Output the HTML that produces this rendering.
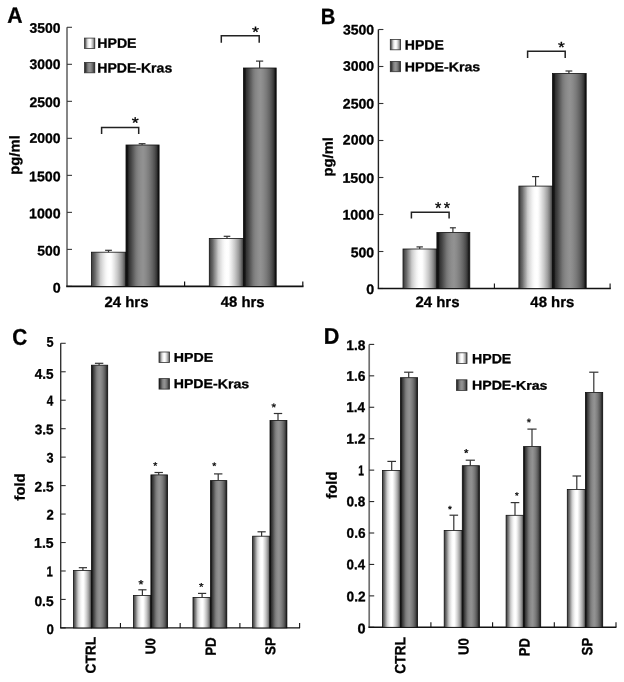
<!DOCTYPE html>
<html><head><meta charset="utf-8"><style>
html,body{margin:0;padding:0;background:#fff;width:624px;height:682px;overflow:hidden}
svg{display:block;filter:grayscale(1) blur(0.3px)}
text{font-family:"Liberation Sans",sans-serif;font-weight:bold;stroke:#000;stroke-width:0.3px}
</style></head><body>
<svg width="624" height="682" viewBox="0 0 624 682">
<rect width="624" height="682" fill="#fff"/>
<defs>
<linearGradient id="gL" x1="0" x2="1" y1="0" y2="0"><stop offset="0" stop-color="#444"/><stop offset="0.04" stop-color="#4a4a4a"/><stop offset="0.07" stop-color="#5c5c5c"/><stop offset="0.1" stop-color="#686868"/><stop offset="0.15" stop-color="#888"/><stop offset="0.21" stop-color="#aaa"/><stop offset="0.26" stop-color="#cacaca"/><stop offset="0.33" stop-color="#e0e0e0"/><stop offset="0.4" stop-color="#f2f2f2"/><stop offset="0.46" stop-color="#fcfcfc"/><stop offset="0.52" stop-color="#fff"/><stop offset="0.57" stop-color="#fdfdfd"/><stop offset="0.65" stop-color="#e8e8e8"/><stop offset="0.75" stop-color="#c8c8c8"/><stop offset="0.85" stop-color="#a0a0a0"/><stop offset="0.91" stop-color="#808080"/><stop offset="0.965" stop-color="#555"/><stop offset="1" stop-color="#333"/></linearGradient>
<linearGradient id="gD" x1="0" x2="1" y1="0" y2="0"><stop offset="0" stop-color="#111"/><stop offset="0.05" stop-color="#151515"/><stop offset="0.09" stop-color="#333"/><stop offset="0.15" stop-color="#444"/><stop offset="0.2" stop-color="#555"/><stop offset="0.25" stop-color="#666"/><stop offset="0.3" stop-color="#777"/><stop offset="0.37" stop-color="#858585"/><stop offset="0.45" stop-color="#8e8e8e"/><stop offset="0.52" stop-color="#929292"/><stop offset="0.6" stop-color="#8a8a8a"/><stop offset="0.7" stop-color="#7a7a7a"/><stop offset="0.79" stop-color="#666"/><stop offset="0.865" stop-color="#505050"/><stop offset="0.92" stop-color="#3a3a3a"/><stop offset="0.955" stop-color="#222"/><stop offset="0.975" stop-color="#111"/><stop offset="1" stop-color="#111"/></linearGradient>
</defs>
<text transform="translate(7.17,22.80) rotate(0.06) scale(0.952,1)" font-size="22.24" fill="#000" >A</text>
<line x1="67.00" y1="27.30" x2="67.00" y2="286.40" stroke="#686868" stroke-width="1.6"/>
<line x1="67.00" y1="286.40" x2="72.00" y2="286.40" stroke="#3a3a3a" stroke-width="1.1"/>
<line x1="67.00" y1="249.39" x2="72.00" y2="249.39" stroke="#3a3a3a" stroke-width="1.1"/>
<line x1="67.00" y1="212.37" x2="72.00" y2="212.37" stroke="#3a3a3a" stroke-width="1.1"/>
<line x1="67.00" y1="175.36" x2="72.00" y2="175.36" stroke="#3a3a3a" stroke-width="1.1"/>
<line x1="67.00" y1="138.34" x2="72.00" y2="138.34" stroke="#3a3a3a" stroke-width="1.1"/>
<line x1="67.00" y1="101.33" x2="72.00" y2="101.33" stroke="#3a3a3a" stroke-width="1.1"/>
<line x1="67.00" y1="64.31" x2="72.00" y2="64.31" stroke="#3a3a3a" stroke-width="1.1"/>
<line x1="67.00" y1="27.30" x2="72.00" y2="27.30" stroke="#3a3a3a" stroke-width="1.1"/>
<text transform="translate(52.63,292.51) rotate(0.06) scale(1.033,1)" font-size="13.84" fill="#000" >0</text>
<text transform="translate(37.37,255.56) rotate(0.06) scale(1.004,1)" font-size="13.84" fill="#000" >500</text>
<text transform="translate(29.01,218.26) rotate(0.06) scale(1.025,1)" font-size="13.84" fill="#000" >1000</text>
<text transform="translate(29.01,181.21) rotate(0.06) scale(1.025,1)" font-size="13.84" fill="#000" >1500</text>
<text transform="translate(29.41,142.86) rotate(0.06) scale(1.012,1)" font-size="13.84" fill="#000" >2000</text>
<text transform="translate(29.41,106.96) rotate(0.06) scale(1.012,1)" font-size="13.84" fill="#000" >2500</text>
<text transform="translate(29.58,69.09) rotate(0.06) scale(1.009,1)" font-size="13.81" fill="#000" >3000</text>
<text transform="translate(29.58,32.84) rotate(0.06) scale(1.009,1)" font-size="13.81" fill="#000" >3500</text>
<line x1="66.20" y1="286.40" x2="303.50" y2="286.40" stroke="#111" stroke-width="1.6"/>
<line x1="184.60" y1="286.40" x2="184.60" y2="281.40" stroke="#111" stroke-width="1.2"/>
<line x1="302.80" y1="286.40" x2="302.80" y2="281.40" stroke="#111" stroke-width="1.2"/>
<text transform="translate(104.48,306.96) rotate(0.06) scale(1.007,1)" font-size="14.84" fill="#000" >24 hrs</text>
<text transform="translate(220.78,306.86) rotate(0.06) scale(1.009,1)" font-size="14.71" fill="#000" >48 hrs</text>
<rect x="91.50" y="252.20" width="34.50" height="34.20" fill="url(#gL)" stroke="#111" stroke-width="0.8"/>
<line x1="108.50" y1="252.20" x2="108.50" y2="250.30" stroke="#333" stroke-width="1.2"/>
<line x1="105.10" y1="250.30" x2="111.90" y2="250.30" stroke="#333" stroke-width="1.2"/>
<rect x="126.00" y="145.00" width="33.10" height="141.40" fill="url(#gD)" stroke="#111" stroke-width="0.8"/>
<line x1="142.10" y1="145.00" x2="142.10" y2="143.70" stroke="#333" stroke-width="1.2"/>
<line x1="138.70" y1="143.70" x2="145.50" y2="143.70" stroke="#333" stroke-width="1.2"/>
<rect x="209.30" y="238.40" width="34.10" height="48.00" fill="url(#gL)" stroke="#111" stroke-width="0.8"/>
<line x1="227.00" y1="238.40" x2="227.00" y2="236.30" stroke="#333" stroke-width="1.2"/>
<line x1="223.70" y1="236.30" x2="230.30" y2="236.30" stroke="#333" stroke-width="1.2"/>
<rect x="243.40" y="68.00" width="32.80" height="218.40" fill="url(#gD)" stroke="#111" stroke-width="0.8"/>
<line x1="259.60" y1="68.00" x2="259.60" y2="61.10" stroke="#333" stroke-width="1.2"/>
<line x1="256.00" y1="61.10" x2="263.20" y2="61.10" stroke="#333" stroke-width="1.2"/>
<path d="M101.60,134.00 V127.40 H138.70 V134.00" fill="none" stroke="#222" stroke-width="1.5"/>
<path d="M221.30,42.80 V35.70 H259.20 V42.80" fill="none" stroke="#222" stroke-width="1.5"/>
<text transform="translate(131.71,128.37) rotate(0.06) scale(1.123,1)" font-size="15.95" font-weight="normal" style="font-weight:normal">*</text>
<text transform="translate(252.01,37.18) rotate(0.06) scale(1.164,1)" font-size="15.38" font-weight="normal" style="font-weight:normal">*</text>
<rect x="84.50" y="38.10" width="10.30" height="10.30" fill="url(#gL)" stroke="#333" stroke-width="0.8"/>
<rect x="84.50" y="62.50" width="10.30" height="10.30" fill="url(#gD)" stroke="#333" stroke-width="0.8"/>
<text transform="translate(97.25,47.80) rotate(0.06) scale(1.046,1)" font-size="13.52" fill="#000" >HPDE</text>
<text transform="translate(97.26,72.47) rotate(0.06) scale(1.055,1)" font-size="13.33" fill="#000" >HPDE-Kras</text>
<text transform="translate(19.37,174.78) scale(0.963,1) rotate(-89.94)" font-size="14.86" fill="#000">pg/ml</text>
<text transform="translate(320.65,24.00) rotate(0.06) scale(0.913,1)" font-size="22.09" fill="#000" >B</text>
<line x1="378.40" y1="29.50" x2="378.40" y2="288.50" stroke="#222" stroke-width="1.4"/>
<line x1="378.40" y1="288.50" x2="383.40" y2="288.50" stroke="#333" stroke-width="1.1"/>
<line x1="378.40" y1="251.50" x2="383.40" y2="251.50" stroke="#333" stroke-width="1.1"/>
<line x1="378.40" y1="214.50" x2="383.40" y2="214.50" stroke="#333" stroke-width="1.1"/>
<line x1="378.40" y1="177.50" x2="383.40" y2="177.50" stroke="#333" stroke-width="1.1"/>
<line x1="378.40" y1="140.50" x2="383.40" y2="140.50" stroke="#333" stroke-width="1.1"/>
<line x1="378.40" y1="103.50" x2="383.40" y2="103.50" stroke="#333" stroke-width="1.1"/>
<line x1="378.40" y1="66.50" x2="383.40" y2="66.50" stroke="#333" stroke-width="1.1"/>
<line x1="378.40" y1="29.50" x2="383.40" y2="29.50" stroke="#333" stroke-width="1.1"/>
<text transform="translate(366.23,294.01) rotate(0.06) scale(1.033,1)" font-size="13.84" fill="#000" >0</text>
<text transform="translate(350.77,257.21) rotate(0.06) scale(1.014,1)" font-size="13.84" fill="#000" >500</text>
<text transform="translate(342.40,219.51) rotate(0.06) scale(1.032,1)" font-size="13.84" fill="#000" >1000</text>
<text transform="translate(342.40,182.86) rotate(0.06) scale(1.032,1)" font-size="13.84" fill="#000" >1500</text>
<text transform="translate(342.81,144.56) rotate(0.06) scale(1.019,1)" font-size="13.84" fill="#000" >2000</text>
<text transform="translate(342.81,108.51) rotate(0.06) scale(1.019,1)" font-size="13.84" fill="#000" >2500</text>
<text transform="translate(342.98,70.79) rotate(0.06) scale(1.015,1)" font-size="13.81" fill="#000" >3000</text>
<text transform="translate(342.98,34.49) rotate(0.06) scale(1.015,1)" font-size="13.81" fill="#000" >3500</text>
<line x1="377.70" y1="288.50" x2="610.80" y2="288.50" stroke="#111" stroke-width="1.4"/>
<line x1="494.40" y1="288.50" x2="494.40" y2="283.50" stroke="#111" stroke-width="1.1"/>
<line x1="610.10" y1="288.50" x2="610.10" y2="283.50" stroke="#111" stroke-width="1.1"/>
<text transform="translate(415.48,307.05) rotate(0.06) scale(0.998,1)" font-size="14.98" fill="#000" >24 hrs</text>
<text transform="translate(530.37,307.06) rotate(0.06) scale(1.005,1)" font-size="14.84" fill="#000" >48 hrs</text>
<rect x="403.00" y="249.00" width="33.90" height="39.50" fill="url(#gL)" stroke="#111" stroke-width="0.8"/>
<line x1="419.70" y1="249.00" x2="419.70" y2="246.90" stroke="#333" stroke-width="1.2"/>
<line x1="416.50" y1="246.90" x2="422.90" y2="246.90" stroke="#333" stroke-width="1.2"/>
<rect x="436.90" y="232.50" width="32.90" height="56.00" fill="url(#gD)" stroke="#111" stroke-width="0.8"/>
<line x1="452.90" y1="232.50" x2="452.90" y2="227.80" stroke="#333" stroke-width="1.2"/>
<line x1="449.90" y1="227.80" x2="455.90" y2="227.80" stroke="#333" stroke-width="1.2"/>
<rect x="518.90" y="186.10" width="33.60" height="102.40" fill="url(#gL)" stroke="#111" stroke-width="0.8"/>
<line x1="535.60" y1="186.10" x2="535.60" y2="176.60" stroke="#333" stroke-width="1.2"/>
<line x1="532.10" y1="176.60" x2="539.10" y2="176.60" stroke="#333" stroke-width="1.2"/>
<rect x="552.50" y="73.50" width="33.70" height="215.00" fill="url(#gD)" stroke="#111" stroke-width="0.8"/>
<line x1="568.90" y1="73.50" x2="568.90" y2="71.00" stroke="#333" stroke-width="1.2"/>
<line x1="565.50" y1="71.00" x2="572.30" y2="71.00" stroke="#333" stroke-width="1.2"/>
<path d="M411.40,218.60 V212.30 H449.10 V218.60" fill="none" stroke="#222" stroke-width="1.5"/>
<path d="M527.60,58.10 V51.30 H565.20 V58.10" fill="none" stroke="#222" stroke-width="1.5"/>
<text transform="translate(435.04,213.57) rotate(0.06) scale(0.982,1)" font-size="16.52" font-weight="normal" style="font-weight:normal">*</text>
<text transform="translate(443.84,213.57) rotate(0.06) scale(0.982,1)" font-size="16.52" font-weight="normal" style="font-weight:normal">*</text>
<text transform="translate(558.12,52.58) rotate(0.06) scale(1.128,1)" font-size="15.38" font-weight="normal" style="font-weight:normal">*</text>
<rect x="390.30" y="39.50" width="10.30" height="10.30" fill="url(#gL)" stroke="#333" stroke-width="0.8"/>
<rect x="390.30" y="61.40" width="10.30" height="10.30" fill="url(#gD)" stroke="#333" stroke-width="0.8"/>
<text transform="translate(404.76,49.50) rotate(0.06) scale(1.052,1)" font-size="13.37" fill="#000" >HPDE</text>
<text transform="translate(404.75,71.17) rotate(0.06) scale(1.098,1)" font-size="12.90" fill="#000" >HPDE-Kras</text>
<text transform="translate(332.61,176.47) scale(0.953,1) rotate(-89.94)" font-size="14.78" fill="#000">pg/ml</text>
<text transform="translate(12.25,344.78) rotate(0.06) scale(0.915,1)" font-size="22.74" fill="#000" >C</text>
<line x1="60.70" y1="343.30" x2="60.70" y2="627.90" stroke="#333" stroke-width="1.4"/>
<line x1="60.70" y1="627.90" x2="65.70" y2="627.90" stroke="#333" stroke-width="1.1"/>
<line x1="60.70" y1="599.44" x2="65.70" y2="599.44" stroke="#333" stroke-width="1.1"/>
<line x1="60.70" y1="570.98" x2="65.70" y2="570.98" stroke="#333" stroke-width="1.1"/>
<line x1="60.70" y1="542.52" x2="65.70" y2="542.52" stroke="#333" stroke-width="1.1"/>
<line x1="60.70" y1="514.06" x2="65.70" y2="514.06" stroke="#333" stroke-width="1.1"/>
<line x1="60.70" y1="485.60" x2="65.70" y2="485.60" stroke="#333" stroke-width="1.1"/>
<line x1="60.70" y1="457.14" x2="65.70" y2="457.14" stroke="#333" stroke-width="1.1"/>
<line x1="60.70" y1="428.68" x2="65.70" y2="428.68" stroke="#333" stroke-width="1.1"/>
<line x1="60.70" y1="400.22" x2="65.70" y2="400.22" stroke="#333" stroke-width="1.1"/>
<line x1="60.70" y1="371.76" x2="65.70" y2="371.76" stroke="#333" stroke-width="1.1"/>
<line x1="60.70" y1="343.30" x2="65.70" y2="343.30" stroke="#333" stroke-width="1.1"/>
<text transform="translate(46.38,634.11) rotate(0.06) scale(0.957,1)" font-size="13.84" fill="#000" >0</text>
<text transform="translate(34.46,606.06) rotate(0.06) scale(0.994,1)" font-size="13.84" fill="#000" >0.5</text>
<text transform="translate(46.48,576.30) rotate(0.06) scale(0.800,1)" font-size="14.24" fill="#000" >1</text>
<text transform="translate(34.12,547.66) rotate(0.06) scale(0.997,1)" font-size="14.05" fill="#000" >1.5</text>
<text transform="translate(46.45,519.40) rotate(0.06) scale(0.932,1)" font-size="14.04" fill="#000" >2</text>
<text transform="translate(34.52,491.46) rotate(0.06) scale(0.990,1)" font-size="13.84" fill="#000" >2.5</text>
<text transform="translate(46.61,462.49) rotate(0.06) scale(0.918,1)" font-size="13.81" fill="#000" >3</text>
<text transform="translate(34.69,434.24) rotate(0.06) scale(0.984,1)" font-size="13.81" fill="#000" >3.5</text>
<text transform="translate(46.72,405.50) rotate(0.06) scale(0.826,1)" font-size="14.24" fill="#000" >4</text>
<text transform="translate(34.80,378.76) rotate(0.06) scale(0.962,1)" font-size="14.05" fill="#000" >4.5</text>
<text transform="translate(46.51,346.76) rotate(0.06) scale(0.902,1)" font-size="14.05" fill="#000" >5</text>
<line x1="60.00" y1="627.90" x2="300.00" y2="627.90" stroke="#111" stroke-width="1.4"/>
<line x1="120.43" y1="627.90" x2="120.43" y2="622.90" stroke="#111" stroke-width="1.1"/>
<line x1="180.16" y1="627.90" x2="180.16" y2="622.90" stroke="#111" stroke-width="1.1"/>
<line x1="239.89" y1="627.90" x2="239.89" y2="622.90" stroke="#111" stroke-width="1.1"/>
<line x1="299.62" y1="627.90" x2="299.62" y2="622.90" stroke="#111" stroke-width="1.1"/>
<rect x="73.40" y="570.60" width="18.00" height="57.30" fill="url(#gL)" stroke="#111" stroke-width="0.8"/>
<line x1="82.90" y1="570.60" x2="82.90" y2="567.70" stroke="#333" stroke-width="1.2"/>
<line x1="78.80" y1="567.70" x2="87.00" y2="567.70" stroke="#333" stroke-width="1.2"/>
<rect x="91.40" y="365.20" width="16.30" height="262.70" fill="url(#gD)" stroke="#111" stroke-width="0.8"/>
<line x1="99.10" y1="365.20" x2="99.10" y2="363.30" stroke="#333" stroke-width="1.2"/>
<line x1="94.90" y1="363.30" x2="103.30" y2="363.30" stroke="#333" stroke-width="1.2"/>
<rect x="133.40" y="595.40" width="17.50" height="32.50" fill="url(#gL)" stroke="#111" stroke-width="0.8"/>
<line x1="142.40" y1="595.40" x2="142.40" y2="589.80" stroke="#333" stroke-width="1.2"/>
<line x1="138.30" y1="589.80" x2="146.50" y2="589.80" stroke="#333" stroke-width="1.2"/>
<rect x="150.90" y="474.90" width="16.70" height="153.00" fill="url(#gD)" stroke="#111" stroke-width="0.8"/>
<line x1="158.70" y1="474.90" x2="158.70" y2="472.50" stroke="#333" stroke-width="1.2"/>
<line x1="154.50" y1="472.50" x2="162.90" y2="472.50" stroke="#333" stroke-width="1.2"/>
<rect x="193.00" y="597.40" width="17.50" height="30.50" fill="url(#gL)" stroke="#111" stroke-width="0.8"/>
<line x1="202.10" y1="597.40" x2="202.10" y2="593.40" stroke="#333" stroke-width="1.2"/>
<line x1="198.00" y1="593.40" x2="206.20" y2="593.40" stroke="#333" stroke-width="1.2"/>
<rect x="210.50" y="480.60" width="16.30" height="147.30" fill="url(#gD)" stroke="#111" stroke-width="0.8"/>
<line x1="218.20" y1="480.60" x2="218.20" y2="473.90" stroke="#333" stroke-width="1.2"/>
<line x1="214.00" y1="473.90" x2="222.40" y2="473.90" stroke="#333" stroke-width="1.2"/>
<rect x="252.60" y="536.20" width="17.40" height="91.70" fill="url(#gL)" stroke="#111" stroke-width="0.8"/>
<line x1="261.60" y1="536.20" x2="261.60" y2="531.80" stroke="#333" stroke-width="1.2"/>
<line x1="257.50" y1="531.80" x2="265.70" y2="531.80" stroke="#333" stroke-width="1.2"/>
<rect x="270.00" y="420.40" width="16.90" height="207.50" fill="url(#gD)" stroke="#111" stroke-width="0.8"/>
<line x1="278.00" y1="420.40" x2="278.00" y2="413.50" stroke="#333" stroke-width="1.2"/>
<line x1="273.80" y1="413.50" x2="282.20" y2="413.50" stroke="#333" stroke-width="1.2"/>
<text transform="translate(138.54,588.33) rotate(0.06) scale(1.080,1)" font-size="11.68" font-weight="normal" style="font-weight:normal">*</text>
<text transform="translate(153.36,469.06) rotate(0.06) scale(1.080,1)" font-size="9.68" font-weight="normal" style="font-weight:normal">*</text>
<text transform="translate(199.02,590.55) rotate(0.06) scale(1.080,1)" font-size="10.82" font-weight="normal" style="font-weight:normal">*</text>
<text transform="translate(212.36,469.26) rotate(0.06) scale(1.080,1)" font-size="9.68" font-weight="normal" style="font-weight:normal">*</text>
<text transform="translate(271.52,411.05) rotate(0.06) scale(1.080,1)" font-size="10.82" font-weight="normal" style="font-weight:normal">*</text>
<rect x="159.00" y="352.00" width="10.50" height="10.50" fill="url(#gL)" stroke="#333" stroke-width="0.8"/>
<rect x="159.00" y="378.60" width="10.50" height="10.50" fill="url(#gD)" stroke="#333" stroke-width="0.8"/>
<text transform="translate(173.75,361.70) rotate(0.06) scale(1.122,1)" font-size="12.65" fill="#000" >HPDE</text>
<text transform="translate(173.75,388.08) rotate(0.06) scale(1.108,1)" font-size="12.76" fill="#000" >HPDE-Kras</text>
<text transform="translate(24.76,500.55) scale(0.975,1) rotate(-89.94)" font-size="14.80" fill="#000">fold</text>
<text transform="translate(95.56,673.57) scale(1.034,1) rotate(-89.94)" font-size="13.80" fill="#000">CTRL</text>
<text transform="translate(155.16,654.26) scale(1.112,1) rotate(-89.94)" font-size="12.57" fill="#000">U0</text>
<text transform="translate(215.70,655.79) scale(1.099,1) rotate(-89.94)" font-size="13.36" fill="#000">PD</text>
<text transform="translate(275.16,654.89) scale(1.067,1) rotate(-89.94)" font-size="13.38" fill="#000">SP</text>
<text transform="translate(323.65,343.80) rotate(0.06) scale(0.956,1)" font-size="22.67" fill="#000" >D</text>
<line x1="369.20" y1="344.40" x2="369.20" y2="627.30" stroke="#707070" stroke-width="1.7"/>
<line x1="369.20" y1="627.30" x2="374.20" y2="627.30" stroke="#2a2a2a" stroke-width="1.1"/>
<line x1="369.20" y1="595.87" x2="374.20" y2="595.87" stroke="#2a2a2a" stroke-width="1.1"/>
<line x1="369.20" y1="564.43" x2="374.20" y2="564.43" stroke="#2a2a2a" stroke-width="1.1"/>
<line x1="369.20" y1="533.00" x2="374.20" y2="533.00" stroke="#2a2a2a" stroke-width="1.1"/>
<line x1="369.20" y1="501.57" x2="374.20" y2="501.57" stroke="#2a2a2a" stroke-width="1.1"/>
<line x1="369.20" y1="470.13" x2="374.20" y2="470.13" stroke="#2a2a2a" stroke-width="1.1"/>
<line x1="369.20" y1="438.70" x2="374.20" y2="438.70" stroke="#2a2a2a" stroke-width="1.1"/>
<line x1="369.20" y1="407.27" x2="374.20" y2="407.27" stroke="#2a2a2a" stroke-width="1.1"/>
<line x1="369.20" y1="375.83" x2="374.20" y2="375.83" stroke="#2a2a2a" stroke-width="1.1"/>
<line x1="369.20" y1="344.40" x2="374.20" y2="344.40" stroke="#2a2a2a" stroke-width="1.1"/>
<text transform="translate(357.53,633.21) rotate(0.06) scale(1.048,1)" font-size="13.84" fill="#000" >0</text>
<text transform="translate(346.56,601.16) rotate(0.06) scale(0.987,1)" font-size="13.84" fill="#000" >0.2</text>
<text transform="translate(346.57,569.36) rotate(0.06) scale(0.961,1)" font-size="13.84" fill="#000" >0.4</text>
<text transform="translate(346.56,537.86) rotate(0.06) scale(0.984,1)" font-size="13.84" fill="#000" >0.6</text>
<text transform="translate(346.56,506.36) rotate(0.06) scale(0.980,1)" font-size="13.84" fill="#000" >0.8</text>
<text transform="translate(358.25,475.30) rotate(0.06) scale(0.724,1)" font-size="14.24" fill="#000" >1</text>
<text transform="translate(346.22,443.55) rotate(0.06) scale(0.991,1)" font-size="14.04" fill="#000" >1.2</text>
<text transform="translate(346.25,412.00) rotate(0.06) scale(0.951,1)" font-size="14.24" fill="#000" >1.4</text>
<text transform="translate(346.23,380.81) rotate(0.06) scale(1.002,1)" font-size="13.84" fill="#000" >1.6</text>
<text transform="translate(346.23,349.91) rotate(0.06) scale(0.998,1)" font-size="13.84" fill="#000" >1.8</text>
<line x1="368.40" y1="627.30" x2="616.40" y2="627.30" stroke="#111" stroke-width="1.4"/>
<line x1="430.90" y1="627.30" x2="430.90" y2="622.30" stroke="#111" stroke-width="1.1"/>
<line x1="492.60" y1="627.30" x2="492.60" y2="622.30" stroke="#111" stroke-width="1.1"/>
<line x1="554.30" y1="627.30" x2="554.30" y2="622.30" stroke="#111" stroke-width="1.1"/>
<line x1="616.00" y1="627.30" x2="616.00" y2="622.30" stroke="#111" stroke-width="1.1"/>
<rect x="382.40" y="470.40" width="18.00" height="156.90" fill="url(#gL)" stroke="#111" stroke-width="0.8"/>
<line x1="391.70" y1="470.40" x2="391.70" y2="461.40" stroke="#333" stroke-width="1.2"/>
<line x1="387.40" y1="461.40" x2="396.00" y2="461.40" stroke="#333" stroke-width="1.2"/>
<rect x="400.40" y="377.70" width="17.20" height="249.60" fill="url(#gD)" stroke="#111" stroke-width="0.8"/>
<line x1="408.70" y1="377.70" x2="408.70" y2="372.20" stroke="#333" stroke-width="1.2"/>
<line x1="404.10" y1="372.20" x2="413.30" y2="372.20" stroke="#333" stroke-width="1.2"/>
<rect x="444.20" y="530.40" width="18.10" height="96.90" fill="url(#gL)" stroke="#111" stroke-width="0.8"/>
<line x1="453.80" y1="530.40" x2="453.80" y2="515.20" stroke="#333" stroke-width="1.2"/>
<line x1="449.50" y1="515.20" x2="458.10" y2="515.20" stroke="#333" stroke-width="1.2"/>
<rect x="462.30" y="465.70" width="17.10" height="161.60" fill="url(#gD)" stroke="#111" stroke-width="0.8"/>
<line x1="470.30" y1="465.70" x2="470.30" y2="460.20" stroke="#333" stroke-width="1.2"/>
<line x1="465.70" y1="460.20" x2="474.90" y2="460.20" stroke="#333" stroke-width="1.2"/>
<rect x="506.10" y="515.30" width="17.50" height="112.00" fill="url(#gL)" stroke="#111" stroke-width="0.8"/>
<line x1="515.00" y1="515.30" x2="515.00" y2="502.60" stroke="#333" stroke-width="1.2"/>
<line x1="510.70" y1="502.60" x2="519.30" y2="502.60" stroke="#333" stroke-width="1.2"/>
<rect x="523.60" y="446.60" width="17.10" height="180.70" fill="url(#gD)" stroke="#111" stroke-width="0.8"/>
<line x1="532.00" y1="446.60" x2="532.00" y2="429.10" stroke="#333" stroke-width="1.2"/>
<line x1="527.40" y1="429.10" x2="536.60" y2="429.10" stroke="#333" stroke-width="1.2"/>
<rect x="567.30" y="489.50" width="18.10" height="137.80" fill="url(#gL)" stroke="#111" stroke-width="0.8"/>
<line x1="576.80" y1="489.50" x2="576.80" y2="476.00" stroke="#333" stroke-width="1.2"/>
<line x1="572.50" y1="476.00" x2="581.10" y2="476.00" stroke="#333" stroke-width="1.2"/>
<rect x="585.40" y="392.50" width="17.30" height="234.80" fill="url(#gD)" stroke="#111" stroke-width="0.8"/>
<line x1="593.80" y1="392.50" x2="593.80" y2="372.20" stroke="#333" stroke-width="1.2"/>
<line x1="589.20" y1="372.20" x2="598.40" y2="372.20" stroke="#333" stroke-width="1.2"/>
<text transform="translate(448.08,512.17) rotate(0.06) scale(1.080,1)" font-size="9.11" font-weight="normal" style="font-weight:normal">*</text>
<text transform="translate(464.08,456.55) rotate(0.06) scale(1.080,1)" font-size="10.54" font-weight="normal" style="font-weight:normal">*</text>
<text transform="translate(515.04,498.47) rotate(0.06) scale(1.080,1)" font-size="8.83" font-weight="normal" style="font-weight:normal">*</text>
<text transform="translate(526.64,425.85) rotate(0.06) scale(1.080,1)" font-size="10.25" font-weight="normal" style="font-weight:normal">*</text>
<rect x="456.40" y="352.80" width="10.60" height="10.60" fill="url(#gL)" stroke="#333" stroke-width="0.8"/>
<rect x="456.40" y="379.80" width="10.60" height="10.60" fill="url(#gD)" stroke="#333" stroke-width="0.8"/>
<text transform="translate(472.06,363.30) rotate(0.06) scale(1.055,1)" font-size="13.37" fill="#000" >HPDE</text>
<text transform="translate(472.05,389.58) rotate(0.06) scale(1.121,1)" font-size="12.61" fill="#000" >HPDE-Kras</text>
<text transform="translate(336.76,498.65) scale(0.999,1) rotate(-89.94)" font-size="14.86" fill="#000">fold</text>
<text transform="translate(405.26,673.87) scale(1.075,1) rotate(-89.94)" font-size="13.80" fill="#000">CTRL</text>
<text transform="translate(468.56,654.89) scale(1.105,1) rotate(-89.94)" font-size="13.17" fill="#000">U0</text>
<text transform="translate(529.40,656.17) scale(1.148,1) rotate(-89.94)" font-size="13.04" fill="#000">PD</text>
<text transform="translate(592.26,655.38) scale(1.129,1) rotate(-89.94)" font-size="13.14" fill="#000">SP</text>
</svg>
</body></html>
